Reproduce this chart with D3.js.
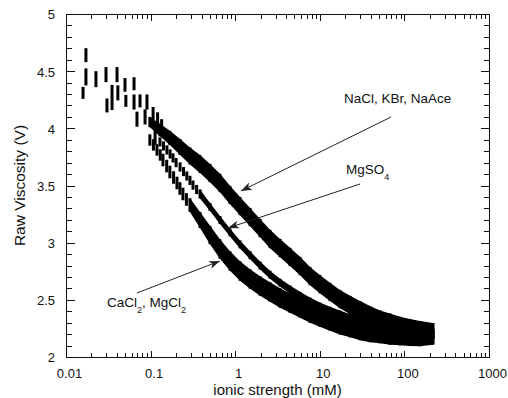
<!DOCTYPE html>
<html><head><meta charset="utf-8">
<script src="https://cdn.jsdelivr.net/npm/d3@7"></script>
<style>
body{margin:0;background:#fff}
svg{display:block}
text{font-family:"Liberation Sans",Arial,sans-serif;fill:#111}
</style>
</head><body>
<svg id="c" width="508" height="398"></svg>
<script>
// ---------- data (ionic strength in mM, raw viscosity in V, +/- spread in V) ----------
const xTickLabels = [0.01, 0.1, 1, 10, 100, 1000];
const yTickLabels = [2, 2.5, 3, 3.5, 4, 4.5, 5];

// sparse readings at the lowest concentrations (all salts)
const earlyConc = [0.0159,0.0172,0.0172,0.0226,0.0297,0.0305,0.035,0.0401,0.041,0.0498,0.051,0.0637,0.0637,0.069,0.075,0.086,0.0906,0.107,0.113,0.121,0.135];
const earlyVisc = [4.31,4.64,4.45,4.43,4.47,4.20,4.27,4.47,4.31,4.38,4.24,4.39,4.23,4.08,4.24,4.10,4.23,4.13,3.92,4.08,4.02];
const earlyErr  = [0.052,0.061,0.074,0.07,0.066,0.061,0.11,0.066,0.066,0.06,0.052,0.057,0.066,0.066,0.057,0.066,0.066,0.057,0.066,0.06,0.06];

// NaCl, KBr, NaAce
const monoConc = [0.098,0.129,0.169,0.223,0.292,0.384,0.504,0.661,0.868,1.14,1.50,1.97,2.58,3.39,4.45,5.84,7.66,10.0,13.2,17.3,22.8,29.9,39.2,51.5,67.6,88.7,116,153,218];
const monoVisc = [4.055,3.985,3.916,3.837,3.758,3.688,3.609,3.522,3.417,3.320,3.224,3.128,3.032,2.953,2.875,2.796,2.708,2.638,2.569,2.507,2.455,2.411,2.367,2.332,2.306,2.280,2.262,2.245,2.227];
const monoErr  = [0.045,0.055,0.062,0.07,0.075,0.078,0.08,0.08,0.08,0.08,0.08,0.08,0.08,0.08,0.08,0.08,0.08,0.08,0.08,0.08,0.08,0.078,0.078,0.075,0.075,0.072,0.07,0.07,0.07];

// MgSO4
const mgso4Conc = [0.129,0.142,0.156,0.17,0.184,0.2,0.223,0.245,0.268,0.292,0.317,0.35,0.384,0.504,0.661,0.868,1.14,1.50,1.97,2.58,3.39,4.45,5.84,7.66,10.0,13.2,17.3,22.8,29.9,39.2,51.5,67.6,88.7,116,153,218];
const mgso4Visc = [3.881,3.846,3.811,3.776,3.741,3.700,3.662,3.622,3.583,3.545,3.504,3.465,3.426,3.312,3.198,3.090,2.985,2.890,2.800,2.720,2.650,2.590,2.535,2.485,2.442,2.405,2.372,2.340,2.310,2.285,2.260,2.243,2.226,2.210,2.200,2.192];
const mgso4Err  = [0.04,0.04,0.04,0.04,0.04,0.04,0.04,0.04,0.04,0.04,0.04,0.04,0.04,0.035,0.035,0.035,0.035,0.035,0.035,0.035,0.035,0.035,0.035,0.035,0.035,0.035,0.035,0.035,0.035,0.035,0.035,0.035,0.035,0.035,0.035,0.035];

// CaCl2, MgCl2
const diConc = [0.098,0.108,0.119,0.130,0.140,0.155,0.169,0.187,0.205,0.222,0.241,0.265,0.292,0.384,0.504,0.661,0.868,1.14,1.50,1.97,2.58,3.39,4.45,5.84,7.66,10.0,13.2,17.3,22.8,29.9,39.2,51.5,67.6,88.7,116,153,218];
const diVisc = [3.898,3.855,3.811,3.767,3.723,3.670,3.618,3.570,3.522,3.474,3.426,3.378,3.329,3.198,3.067,2.945,2.840,2.752,2.682,2.621,2.569,2.516,2.472,2.429,2.385,2.350,2.315,2.282,2.257,2.232,2.215,2.200,2.188,2.180,2.174,2.172,2.178];
const diErr  = [0.05,0.05,0.05,0.05,0.055,0.055,0.055,0.055,0.055,0.055,0.055,0.055,0.06,0.07,0.08,0.085,0.085,0.085,0.085,0.085,0.085,0.085,0.085,0.085,0.085,0.085,0.085,0.085,0.085,0.085,0.085,0.08,0.08,0.078,0.078,0.078,0.07];

// ---------- layout ----------
const W = 508, H = 398;
const m = {left: 66, top: 14, right: 19, bottom: 41};
const svg = d3.select('#c');
const x = d3.scaleLog().domain([0.01, 1000]).range([m.left, W - m.right]);
const y = d3.scaleLinear().domain([2, 5]).range([H - m.bottom, m.top]);
const axisColor = '#111';
const x0 = Math.round(x(0.01)), x1 = Math.round(x(1000)), yb = Math.round(y(2)), yt = Math.round(y(5));

const isMajorX = v => xTickLabels.some(t => Math.abs(t - v) / t < 1e-9);
const xAll = x.ticks();
const yAll = d3.range(20, 51).map(v => v / 10);
const isMajorY = v => Math.abs(v * 2 - Math.round(v * 2)) < 1e-9;

// tick marks, drawn inward on all four sides as 1-px rects
const tickG = svg.append('g').attr('fill', axisColor);
const xTickRects = xAll.flatMap(d => {
  const len = isMajorX(d) ? 6 : 4, xx = Math.round(x(d));
  return [{x: xx, y: yb - len, w: 1, h: len}, {x: xx, y: yt + 1, w: 1, h: len}];
});
const yTickRects = yAll.flatMap(d => {
  const len = isMajorY(d) ? 8 : 5, yy = Math.round(y(d));
  return [{x: x0 + 1, y: yy, w: len, h: 1}, {x: x1 - len, y: yy, w: len, h: 1}];
});
tickG.selectAll('rect').data(xTickRects.concat(yTickRects)).join('rect')
  .attr('x', d => d.x).attr('y', d => d.y).attr('width', d => d.w).attr('height', d => d.h);

// frame
svg.append('rect').attr('x', x0 + 0.5).attr('y', yt + 0.5)
  .attr('width', x1 - x0).attr('height', yb - yt)
  .attr('fill', 'none').attr('stroke', axisColor).attr('stroke-width', 1);

// tick labels
const fmt = d3.format('~g');
svg.append('g').selectAll('text').data(xTickLabels).join('text')
  .attr('x', d => x(d) + 3.5).attr('y', 377.5).attr('text-anchor', 'middle')
  .attr('font-size', 13).text(fmt);
svg.append('g').selectAll('text').data(yTickLabels).join('text')
  .attr('x', x0 - 11).attr('y', d => y(d)).attr('dy', '0.42em').attr('text-anchor', 'end')
  .attr('font-size', 13).text(fmt);

// axis titles
svg.append('text').attr('x', (x0 + x1) / 2).attr('y', 394.5)
  .attr('text-anchor', 'middle').attr('font-size', 15).text('ionic strength (mM)');
svg.append('text').attr('transform', `translate(25,${(yb + yt) / 2}) rotate(-90)`)
  .attr('text-anchor', 'middle').attr('font-size', 15.5).text('Raw Viscosity (V)');

// ---------- data marks ----------
const plot = svg.append('g');
function drawSeries(conc, visc, err, bandFrom){
  const pts = conc.map((c, i) => ({c, v: visc[i], e: err[i]}));
  const band = pts.filter(p => p.c >= bandFrom);
  if (band.length > 1) {
    plot.append('path').datum(band)
      .attr('d', d3.area().x(p => x(p.c)).y0(p => y(p.v - p.e)).y1(p => y(p.v + p.e)))
      .attr('fill', '#000');
  }
  plot.append('g').selectAll('rect').data(pts).join('rect')
    .attr('x', p => x(p.c) - 1.5).attr('width', 3)
    .attr('y', p => y(p.v + p.e)).attr('height', p => y(p.v - p.e) - y(p.v + p.e))
    .attr('fill', '#000');
}
drawSeries(earlyConc, earlyVisc, earlyErr, Infinity);
drawSeries(monoConc, monoVisc, monoErr, 0.09);
drawSeries(mgso4Conc, mgso4Visc, mgso4Err, 0.38);
drawSeries(diConc, diVisc, diErr, 0.29);

// ---------- annotations ----------
const defs = svg.append('defs');
defs.append('marker').attr('id', 'ah').attr('viewBox', '0 -5 12 10')
  .attr('refX', 11).attr('refY', 0).attr('markerWidth', 12).attr('markerHeight', 10)
  .attr('markerUnits', 'userSpaceOnUse').attr('orient', 'auto')
  .append('path').attr('d', 'M0,-4 L11,0 L0,4 L3,0 Z').attr('fill', '#222');

const arrows = [
  {from: [69.5, 4.099], to: [1.17, 3.452]},
  {from: [29.9, 3.513], to: [0.822, 3.128]},
  {from: [0.069, 2.56], to: [0.661, 2.84]}
];
svg.append('g').selectAll('line').data(arrows).join('line')
  .attr('x1', d => x(d.from[0])).attr('y1', d => y(d.from[1]))
  .attr('x2', d => x(d.to[0])).attr('y2', d => y(d.to[1]))
  .attr('stroke', '#222').attr('stroke-width', 1).attr('marker-end', 'url(#ah)');

svg.append('text').attr('x', x(19.3)).attr('y', y(4.22)).attr('font-size', 13.5).text('NaCl, KBr, NaAce');
const t2 = svg.append('text').attr('x', x(20.4)).attr('y', y(3.60)).attr('font-size', 13.5);
t2.append('tspan').text('MgSO');
t2.append('tspan').attr('font-size', 9).attr('dy', 6).text('4');
const t3 = svg.append('text').attr('x', x(0.0305)).attr('y', y(2.437)).attr('font-size', 13.5);
t3.append('tspan').text('CaCl');
t3.append('tspan').attr('font-size', 9).attr('dy', 6).text('2');
t3.append('tspan').attr('dy', -6).text(', MgCl');
t3.append('tspan').attr('font-size', 9).attr('dy', 6).text('2');
</script>
</body></html>
